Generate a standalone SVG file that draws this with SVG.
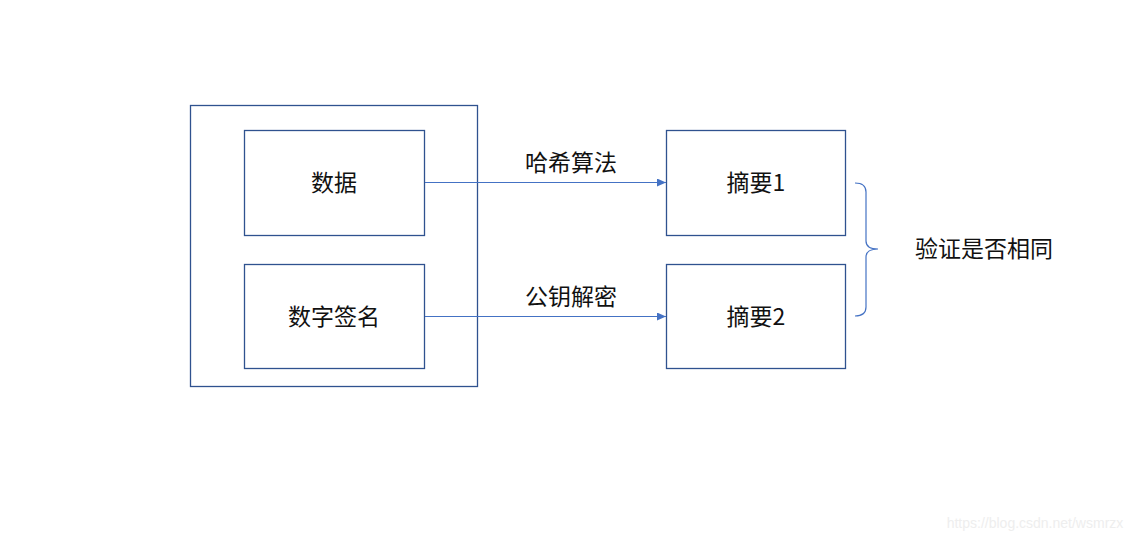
<svg xmlns="http://www.w3.org/2000/svg" width="1145" height="541" viewBox="0 0 1145 541">
<defs>
<style>
.box{fill:#fff;stroke:#2f528f;stroke-width:1.3}
.t{font-family:"Microsoft YaHei","Noto Sans CJK SC",sans-serif;font-size:23px;fill:#111;text-anchor:middle;dominant-baseline:central}
.c{fill:none;stroke:#4472c4;stroke-width:1.2}
</style>
<marker id="ah" markerWidth="10" markerHeight="8" refX="9" refY="4" orient="auto" markerUnits="userSpaceOnUse">
<path d="M0,0 L9,4 L0,8 Z" fill="#4472c4"/>
</marker>
</defs>
<rect width="1145" height="541" fill="#fff"/>
<g id="outer"><rect class="box" x="190.5" y="105.5" width="287" height="281"/></g>
<g id="data"><rect class="box" x="244.5" y="130.5" width="180" height="105"/><text class="t" x="334" y="181">数据</text></g>
<g id="sig"><rect class="box" x="244.5" y="264.5" width="180" height="104"/><text class="t" x="334" y="315">数字签名</text></g>
<g id="d1"><rect class="box" x="666.5" y="130.5" width="179" height="105"/><text class="t" x="756" y="181">摘要1</text></g>
<g id="d2"><rect class="box" x="666.5" y="264.5" width="179" height="104"/><text class="t" x="756" y="315">摘要2</text></g>
<g id="verify"><text class="t" x="984" y="247">验证是否相同</text></g>
<g id="connectors">
<line class="c" x1="425" y1="182.5" x2="666" y2="182.5" marker-end="url(#ah)"/>
<line class="c" x1="425" y1="316.5" x2="666" y2="316.5" marker-end="url(#ah)"/>
<text class="t" x="571" y="161">哈希算法</text>
<text class="t" x="571" y="295">公钥解密</text>
<path class="c" stroke="#8faadc" d="M855,183 Q866,183 866,192 L866,241 Q866,249 878,249 Q866,249 866,257 L866,307 Q866,316 855,316"/>
</g>
<text x="1035" y="523" font-family="Liberation Sans,Arial,sans-serif" font-size="14" fill="#eeeeee" text-anchor="middle" dominant-baseline="central">https://blog.csdn.net/wsmrzx</text>
</svg>
